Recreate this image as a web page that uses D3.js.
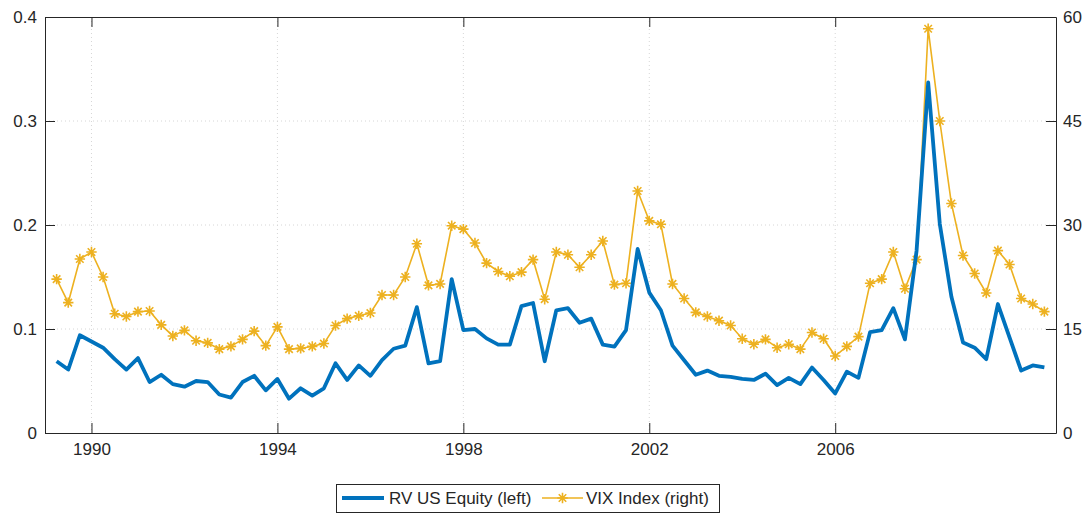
<!DOCTYPE html>
<html><head><meta charset="utf-8">
<script src="https://cdn.jsdelivr.net/npm/d3@7"></script>
<style>
html,body{margin:0;padding:0;background:#fff;}
svg text{font-family:"Liberation Sans",Arial,Helvetica,sans-serif;fill:#262626;}
</style></head>
<body><svg id="c" width="1091" height="514"></svg>
<script>
// Quarterly observations starting 1989 Q1 (end of quarter)
const startYear = 1989.25;
const rvEquity = [0.069,0.061,0.094,0.088,0.082,0.071,0.061,0.072,0.049,0.056,0.047,0.0445,0.050,0.049,0.037,0.034,
0.049,0.055,0.041,0.052,0.033,0.043,0.036,0.043,0.067,0.051,0.065,0.055,0.070,0.081,0.084,0.121,
0.067,0.069,0.148,0.099,0.100,0.091,0.085,0.085,0.122,0.125,0.069,0.118,0.120,0.106,0.110,0.085,
0.083,0.099,0.177,0.135,0.118,0.084,0.070,0.056,0.060,0.055,0.054,0.052,0.051,0.057,0.046,0.053,
0.047,0.063,0.051,0.038,0.059,0.053,0.097,0.099,0.120,0.090,0.175,0.337,0.201,0.131,0.087,0.082,
0.071,0.124,0.092,0.060,0.065,0.063];
const vixIndex = [22.2,18.8,25.1,26.1,22.5,17.2,16.8,17.5,17.6,15.6,14.0,14.8,13.3,13.0,12.1,12.5,
13.5,14.7,12.6,15.3,12.1,12.2,12.5,12.9,15.5,16.5,16.9,17.3,19.9,19.9,22.5,27.3,
21.3,21.5,29.9,29.4,27.4,24.5,23.3,22.6,23.2,25.0,19.3,26.1,25.7,23.9,25.7,27.7,
21.4,21.6,34.9,30.6,30.1,21.5,19.4,17.4,16.8,16.2,15.5,13.6,12.8,13.5,12.3,12.8,
12.1,14.5,13.6,11.1,12.5,13.9,21.6,22.2,26.1,20.8,25.0,58.3,45.0,33.1,25.6,23.0,
20.2,26.3,24.3,19.4,18.6,17.5];
const xTicks = [1990,1994,1998,2002,2006];
const leftTicks = [0,0.1,0.2,0.3,0.4];
const rightTicks = [0,15,30,45,60];
const seriesNames = ["RV US Equity (left)","VIX Index (right)"];

const W=1091,H=514, m={l:45,t:17,r:35,b:81};
const iw=W-m.l-m.r, ih=H-m.t-m.b;
const svg=d3.select("#c");
const g=svg.append("g").attr("transform",`translate(${m.l},${m.t})`);
const dates = rvEquity.map((_,i)=>startYear+i*0.25);
const x=d3.scaleLinear().domain([1989.0,2010.75]).range([0,iw]);
const yL=d3.scaleLinear().domain([0,0.4]).range([ih,0]);
const yR=d3.scaleLinear().domain([0,60]).range([ih,0]);
const axisCol="#262626", gridCol="#d6d6d6";

// grid
g.append("g").selectAll("line").data(xTicks).join("line")
 .attr("x1",d=>x(d)).attr("x2",d=>x(d)).attr("y1",0).attr("y2",ih)
 .attr("stroke",gridCol).attr("stroke-width",1).attr("stroke-dasharray","1,3");
g.append("g").selectAll("line").data(leftTicks.slice(1,-1)).join("line")
 .attr("x1",0).attr("x2",iw).attr("y1",d=>yL(d)).attr("y2",d=>yL(d))
 .attr("stroke",gridCol).attr("stroke-width",1).attr("stroke-dasharray","1,3");

// axes via d3
const fs="17px";
const ax=g.append("g").attr("transform",`translate(0,${ih})`)
 .call(d3.axisBottom(x).tickValues(xTicks).tickFormat(d3.format("d")).tickSizeInner(-10).tickSizeOuter(0).tickPadding(10));
const axT=g.append("g")
 .call(d3.axisTop(x).tickValues(xTicks).tickFormat("").tickSizeInner(-10).tickSizeOuter(0));
const ayL=g.append("g")
 .call(d3.axisLeft(yL).tickValues(leftTicks).tickFormat(d=>d===0?"0":d3.format(".1f")(d)).tickSizeInner(-10).tickSizeOuter(0).tickPadding(8));
const ayR=g.append("g").attr("transform",`translate(${iw},0)`)
 .call(d3.axisRight(yR).tickValues(rightTicks).tickFormat(d3.format("d")).tickSizeInner(-10).tickSizeOuter(0).tickPadding(7));
[ax,axT,ayL,ayR].forEach(a=>{
  a.select(".domain").attr("stroke",axisCol).attr("stroke-width",1);
  a.selectAll(".tick line").attr("stroke",axisCol).attr("stroke-width",1);
  a.selectAll("text").style("font-size",fs).attr("fill",axisCol).style("font-family","'Liberation Sans',Arial,sans-serif");
});
ax.selectAll("text").attr("dy","0.71em");

// lines
const lineL=d3.line().x((d,i)=>x(dates[i])).y(d=>yL(d));
const lineR=d3.line().x((d,i)=>x(dates[i])).y(d=>yR(d));
const blue="#0072BD", gold="#EDB120";
g.append("path").datum(vixIndex).attr("d",lineR).attr("fill","none").attr("stroke",gold).attr("stroke-width",1.6);
const star=(r)=>`M${-r},0L${r},0M0,${-r}L0,${r}M${-r*0.72},${-r*0.72}L${r*0.72},${r*0.72}M${-r*0.72},${r*0.72}L${r*0.72},${-r*0.72}`;
g.append("g").selectAll("path").data(vixIndex).join("path")
 .attr("transform",(d,i)=>`translate(${x(dates[i])},${yR(d)})`)
 .attr("d",star(5.2)).attr("fill","none").attr("stroke",gold).attr("stroke-width",1.6);
g.append("path").datum(rvEquity).attr("d",lineL).attr("fill","none").attr("stroke",blue).attr("stroke-width",3.8).attr("stroke-linejoin","round");

// legend
const lg=svg.append("g");
lg.append("rect").attr("x",336.5).attr("y",484.5).attr("width",383).attr("height",28).attr("fill","#fff").attr("stroke",axisCol).attr("stroke-width",1);
lg.append("line").attr("x1",342).attr("x2",384).attr("y1",498).attr("y2",498).attr("stroke",blue).attr("stroke-width",3.8);
lg.append("text").attr("x",389).attr("y",498).attr("dy","0.35em").style("font-size",fs).text(seriesNames[0]);
lg.append("line").attr("x1",542).attr("x2",583).attr("y1",498).attr("y2",498).attr("stroke",gold).attr("stroke-width",1.6);
lg.append("path").attr("transform","translate(562.5,498)").attr("d",star(5.2)).attr("fill","none").attr("stroke",gold).attr("stroke-width",1.6);
lg.append("text").attr("x",586).attr("y",498).attr("dy","0.35em").style("font-size",fs).text(seriesNames[1]);
</script></body></html>
